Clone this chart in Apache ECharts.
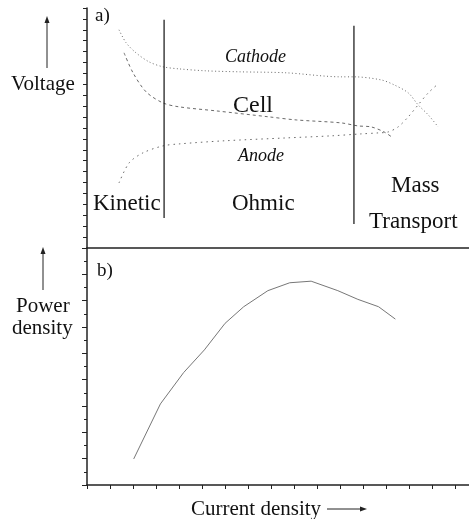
<!DOCTYPE html>
<html><head><meta charset="utf-8">
<script src="https://cdn.jsdelivr.net/npm/echarts@6/dist/echarts.min.js"></script>
<style>html,body{margin:0;padding:0;background:#fff}#c{width:469px;height:519px}</style>
</head><body><div id="c"></div>
<script>
// Panel a) voltage curves (x: current density, y: voltage, arbitrary units)
var cathode = [[1.39,20.0],[1.70,18.81],[2.13,17.89],[2.70,17.06],[3.30,16.61],[4.00,16.42],[5.17,16.24],[6.61,16.15],[8.65,16.06],[11.04,15.69],[11.61,15.69],[12.78,15.41],[13.35,14.95],[13.96,14.22],[14.39,13.12],[14.83,12.20],[15.26,11.10]];
var cell = [[1.61,17.89],[2.00,16.06],[2.57,14.31],[3.30,13.30],[4.00,12.94],[5.61,12.57],[7.91,12.02],[9.09,11.74],[11.04,11.47],[11.78,11.19],[12.35,11.10],[12.91,10.64],[13.30,10.09]];
var anode = [[1.39,5.96],[1.83,7.80],[2.43,8.72],[3.30,9.36],[4.00,9.54],[5.91,9.82],[8.65,10.09],[10.61,10.28],[11.91,10.46],[12.65,10.55],[13.09,10.64],[13.52,11.10],[13.96,12.02],[14.39,13.12],[14.83,14.22],[15.26,15.05]];
// Region boundaries (x position, y extent)
var boundary1 = [[3.35,20.92],[3.35,2.75]];
var boundary2 = [[11.6,20.37],[11.6,2.20]];
// Panel b) power density
var power = [[2.03,0.99],[3.19,3.08],[4.20,4.27],[5.10,5.13],[6.00,6.14],[6.81,6.77],[7.86,7.38],[8.81,7.68],[9.74,7.74],[10.90,7.38],[11.77,7.05],[12.67,6.77],[13.40,6.30]];

var serif = '"Liberation Serif","DejaVu Serif",serif';
var axisCol = '#222';
var curveCol = '#6a6a6a';

var chart = echarts.init(document.getElementById('c'));
function txt(t, x, y, size, italic, align) {
  return {type:'text', x:x, y:y, style:{text:t, fontFamily:serif, fontSize:size, fontStyle:italic?'italic':'normal', fill:'#111', align:align||'left', verticalAlign:'middle'}};
}
function arrowUp(x, y1, y2) {
  return [{type:'line', shape:{x1:x,y1:y2,x2:x,y2:y1+5}, style:{stroke:'#222',lineWidth:1}},
          {type:'polygon', shape:{points:[[x,y1],[x-2.5,y1+7],[x+2.5,y1+7]]}, style:{fill:'#222'}}];
}
function arrowRight(x1, x2, y) {
  return [{type:'line', shape:{x1:x1,y1:y,x2:x2-5,y2:y}, style:{stroke:'#222',lineWidth:1}},
          {type:'polygon', shape:{points:[[x2,y],[x2-7,y-2.5],[x2-7,y+2.5]]}, style:{fill:'#222'}}];
}
var graphics = [
  txt('a)', 95, 16, 19),
  txt('Voltage', 11, 84, 21),
  txt('Cathode', 225, 57, 18, true),
  txt('Cell', 233, 106, 24),
  txt('Anode', 238, 156, 18, true),
  txt('Kinetic', 93, 204, 23),
  txt('Ohmic', 232, 204, 23),
  txt('Mass', 391, 186, 23),
  txt('Transport', 369, 222, 23),
  txt('b)', 97, 271, 19),
  txt('Power', 16, 306, 21),
  txt('density', 12, 328, 21),
  txt('Current density', 191, 509, 21)
].concat(arrowUp(47, 16, 68), arrowUp(43, 247, 290), arrowRight(327, 367, 509));

chart.setOption({
  animation:false,
  backgroundColor:'#fff',
  grid:[{left:87,right:0,top:8,height:240},{left:87,right:0,top:248,height:237}],
  xAxis:[
    {type:'value',gridIndex:0,min:0,max:16.6,axisLine:{show:true,onZero:false,lineStyle:{color:axisCol,width:1.5}},axisTick:{show:false},axisLabel:{show:false},splitLine:{show:false}},
    {type:'value',gridIndex:1,min:0,max:16.6,interval:1,axisLine:{show:true,onZero:false,lineStyle:{color:axisCol,width:1.5}},axisTick:{show:true,length:4,lineStyle:{color:axisCol}},axisLabel:{show:false},splitLine:{show:false}}
  ],
  yAxis:[
    {type:'value',gridIndex:0,min:0,max:22,interval:1,axisLine:{show:true,onZero:false,lineStyle:{color:axisCol,width:1.5}},axisTick:{show:true,length:4,lineStyle:{color:axisCol}},axisLabel:{show:false},splitLine:{show:false}},
    {type:'value',gridIndex:1,min:0,max:9,interval:1,axisLine:{show:true,onZero:false,lineStyle:{color:axisCol,width:1.5}},axisTick:{show:true,length:5,lineStyle:{color:axisCol}},minorTick:{show:true,splitNumber:2,length:3,lineStyle:{color:axisCol}},axisLabel:{show:false},splitLine:{show:false},minorSplitLine:{show:false}}
  ],
  graphic:graphics,
  series:[
    {type:'line',xAxisIndex:0,yAxisIndex:0,data:cathode,smooth:0.3,symbol:'none',lineStyle:{color:curveCol,width:1,type:[1,2.5]}},
    {type:'line',xAxisIndex:0,yAxisIndex:0,data:cell,smooth:0.3,symbol:'none',lineStyle:{color:curveCol,width:1,type:[3,3]}},
    {type:'line',xAxisIndex:0,yAxisIndex:0,data:anode,smooth:0.3,symbol:'none',lineStyle:{color:curveCol,width:1,type:[1.5,4]}},
    {type:'line',xAxisIndex:0,yAxisIndex:0,data:boundary1,symbol:'none',lineStyle:{color:'#222',width:1.3}},
    {type:'line',xAxisIndex:0,yAxisIndex:0,data:boundary2,symbol:'none',lineStyle:{color:'#222',width:1.3}},
    {type:'line',xAxisIndex:1,yAxisIndex:1,data:power,symbol:'none',lineStyle:{color:'#777',width:1}}
  ]
});
</script></body></html>
